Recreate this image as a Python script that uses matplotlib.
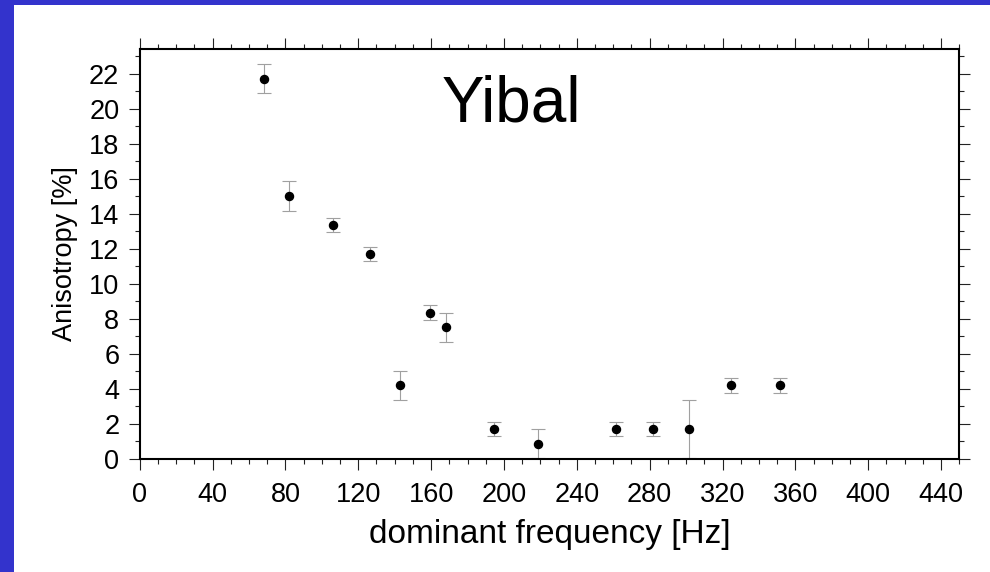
import matplotlib
matplotlib.use("Agg")
import matplotlib.pyplot as plt
from matplotlib.ticker import MultipleLocator
from matplotlib.patches import Rectangle

# Data
frequency = [68.5, 82.1, 106.2, 126.3, 142.8, 159.3, 167.9, 194.3, 218.9, 261.6, 281.8, 301.6, 324.6, 351.3]
anisotropy = [21.7, 15.0, 13.35, 11.7, 4.2, 8.35, 7.5, 1.7, 0.85, 1.7, 1.7, 1.7, 4.2, 4.2]
error = [0.83, 0.84, 0.42, 0.41, 0.83, 0.42, 0.84, 0.42, 0.83, 0.42, 0.42, 1.67, 0.42, 0.42]
x_ticks = [0, 40, 80, 120, 160, 200, 240, 280, 320, 360, 400, 440]
y_ticks = [0, 2, 4, 6, 8, 10, 12, 14, 16, 18, 20, 22]
title_text = "Yibal"
x_label = "dominant frequency [Hz]"
y_label = "Anisotropy [%]"

plt.rcParams['font.family'] = ['Liberation Sans', 'DejaVu Sans']

fig = plt.figure(figsize=(9.9, 5.72), dpi=100, facecolor='white')
# blue frame strips (top and left)
fig.patches.append(Rectangle((0, 1 - 5 / 572), 1, 5 / 572, transform=fig.transFigure,
                             facecolor='#3333cc', edgecolor='none', zorder=0))
fig.patches.append(Rectangle((0, 0), 14 / 990, 1, transform=fig.transFigure,
                             facecolor='#3333cc', edgecolor='none', zorder=0))

ax = fig.add_axes([139.7 / 990, 1 - 458.7 / 572, (959.3 - 139.7) / 990, (458.7 - 49) / 572])

ax.errorbar(frequency, anisotropy, yerr=error, fmt='o', color='black', markersize=5.8,
            ecolor='#a0a0a0', elinewidth=0.8, capsize=4.8, capthick=0.8, zorder=3)

ax.set_xlim(0, 450)
ax.set_ylim(0, 23.4)
ax.set_xticks(x_ticks)
ax.set_yticks(y_ticks)
ax.xaxis.set_minor_locator(MultipleLocator(10))
ax.yaxis.set_minor_locator(MultipleLocator(1))

ax.tick_params(which='both', direction='out', top=True, right=True, labeltop=False,
               labelright=False, width=0.8, color='#222222')
ax.tick_params(which='major', length=7.7, labelsize=19.5)
ax.tick_params(which='minor', length=3.9)
ax.tick_params(axis='y', which='major', pad=7)
ax.tick_params(axis='x', which='major', pad=9)

for s in ax.spines.values():
    s.set_linewidth(1.5)
    s.set_zorder(4)

ax.set_xlabel(x_label, fontsize=24, labelpad=8)
ax.set_ylabel(y_label, fontsize=19.5, labelpad=8)

ax.text(166, 19.26, title_text, fontsize=46, ha='left', va='baseline')

fig.savefig('out.png', dpi=100, facecolor='white')
